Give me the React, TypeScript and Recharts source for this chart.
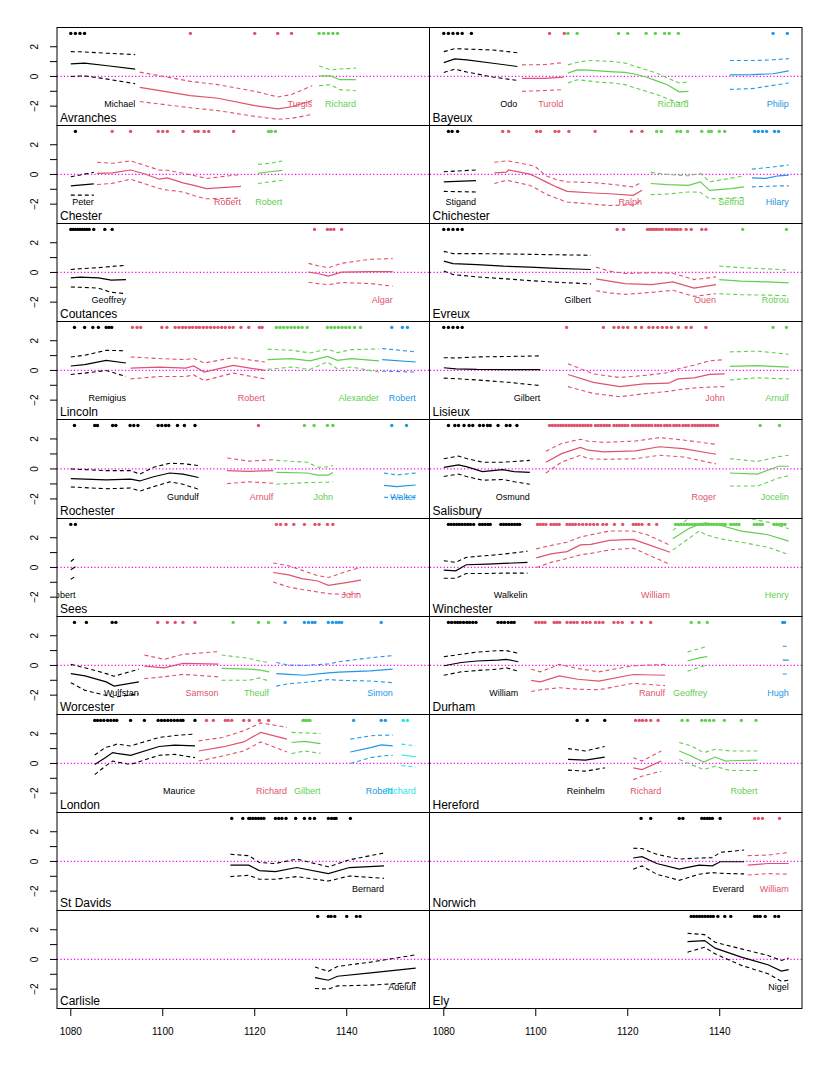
import React from 'react'
import { ComposedChart, Line, Scatter, XAxis, YAxis, ReferenceLine } from 'recharts'

// each fit point: [year, estimate, lower, upper]
type Pt = [number, number, number, number]

const COLORS = ['#000000', '#DF536B', '#61D04F', '#2297E6', '#28E2E5']
const YEAR_TICKS = [1080, 1100, 1120, 1140]
const SCORE_TICKS = [-2, -1, 0, 1, 2]
const RUG_Y = 2.9
const LABEL_Y = -1.87

const seeNames = [
  'Avranches', 'Bayeux', 'Chester', 'Chichester', 'Coutances', 'Evreux', 'Lincoln', 'Lisieux',
  'Rochester', 'Salisbury', 'Sees', 'Winchester', 'Worcester', 'Durham', 'London', 'Hereford',
  'St Davids', 'Norwich', 'Carlisle', 'Ely',
]

// Avranches
const avranchesNames = ['Michael', 'Turgis', 'Richard']
const avranchesFits: Pt[][] = [
  [[1080, 0.84, 0, 1.67], [1082, 0.88, 0.03, 1.66], [1083, 0.9, 0.04, 1.65], [1088, 0.72, -0.18, 1.56], [1094, 0.49, -0.49, 1.47]],
  [[1095, -0.73, -1.69, 0.29], [1106, -1.29, -2.11, -0.33], [1112, -1.47, -2.3, -0.55], [1120, -1.96, -2.69, -1.0], [1125, -2.18, -2.89, -1.38], [1128, -2.04, -2.82, -1.22], [1132.5, -1.62, -2.56, -0.62]],
  [[1134, 0.04, -0.62, 0.71], [1136.5, 0.04, -0.56, 0.44], [1138.5, -0.22, -0.89, 0.5], [1142, -0.22, -0.96, 0.56]],
]
const avranchesDates = [[1080, 1081, 1082, 1083], [1106, 1120, 1125, 1128], [1134, 1135, 1136, 1137, 1138]]

// Bayeux
const bayeuxNames = ['Odo', 'Turold', 'Richard', 'Philip']
const bayeuxFits: Pt[][] = [
  [[1080, 0.93, 0.27, 1.67], [1082.4, 1.18, 0.49, 1.87], [1085, 1.11, 0.3, 1.84], [1090.7, 0.89, -0.04, 1.78], [1096, 0.67, -0.27, 1.6]],
  [[1097, -0.13, -1.0, 0.78], [1102, -0.13, -0.95, 0.8], [1106, -0.04, -0.89, 0.93]],
  [[1107, 0.22, -0.44, 0.78], [1109, 0.44, -0.22, 0.95], [1111.4, 0.42, -0.3, 1.07], [1113.7, 0.38, -0.38, 1.05], [1117, 0.31, -0.45, 1.0], [1119.4, 0.27, -0.55, 0.9], [1121.7, 0.15, -0.78, 0.67], [1124, -0.04, -1.0, 0.45], [1126.3, -0.3, -1.22, 0.22], [1128.6, -0.56, -1.5, -0.1], [1131.2, -1.04, -1.78, -0.44], [1133.2, -1.0, -1.6, -0.38]],
  [[1142.2, 0.11, -0.87, 1.07], [1147, 0.12, -0.82, 1.07], [1151.6, 0.18, -0.6, 1.12], [1155, 0.38, -0.44, 1.2]],
]
const bayeuxDates = [[1080, 1081, 1082, 1083, 1084, 1086], [1103, 1106.2], [1107, 1109, 1118, 1120, 1124, 1126, 1128, 1129, 1131], [1151.6, 1154.7]]

// Chester
const chesterNames = ['Peter', 'Robert', 'Robert']
const chesterFits: Pt[][] = [
  [[1080, -0.77, -1.39, -0.16], [1085, -0.64, -1.39, 0.14]],
  [[1085.7, 0.07, -0.68, 0.82], [1089, 0.11, -0.6, 0.75], [1093, 0.3, -0.32, 0.91], [1096, 0.05, -0.62, 0.62], [1099.2, -0.32, -0.95, 0.3], [1101, -0.23, -1.05, 0.28], [1104.4, -0.57, -1.18, 0.08], [1107, -0.75, -1.45, -0.09], [1109.5, -0.95, -1.64, -0.27], [1117, -0.8, -1.59, 0]],
  [[1120.7, 0.07, -0.61, 0.68], [1123.3, 0.18, -0.5, 0.75], [1126, 0.27, -0.39, 0.91]],
]
const chesterDates = [[1081], [1089, 1093, 1099, 1100, 1101, 1104.4, 1107, 1107.7, 1109, 1110, 1115.4], [1123, 1123.6, 1124.5]]

// Chichester
const chichesterNames = ['Stigand', 'Ralph', 'Seffrid', 'Hilary']
const chichesterFits: Pt[][] = [
  [[1080, -0.5, -1.14, 0.18], [1087, -0.41, -1.18, 0.3]],
  [[1091, 0.11, -0.61, 0.82], [1093.6, 0.15, -0.39, 0.91], [1094.1, 0.3, -0.42, 0.9], [1098.7, 0.02, -0.73, 0.64], [1100, -0.16, -0.93, 0.5], [1102.2, -0.5, -1.33, -0.09], [1104.5, -0.84, -1.6, -0.35], [1106.8, -1.14, -1.86, -0.5], [1112.5, -1.25, -2.0, -0.55], [1116, -1.3, -2.09, -0.65], [1121.2, -1.41, -2.05, -0.84], [1123.1, -1.07, -1.75, -0.5]],
  [[1125, -0.61, -1.36, 0.14], [1128.6, -0.68, -1.32, 0], [1133.2, -0.73, -1.18, -0.09], [1135.8, -0.5, -1.2, 0.07], [1137.8, -1.07, -1.64, -0.5], [1142.4, -0.95, -1.59, -0.25], [1145.3, -0.84, -1.55, -0.09]],
  [[1147, -0.23, -0.84, 0.36], [1150, -0.27, -0.8, 0.45], [1152.8, -0.09, -0.77, 0.55], [1155, -0.05, -0.77, 0.64]],
]
const chichesterDates = [
  [1081, 1081.8, 1083],
  [1092.8, 1094.1, 1100.2, 1101, 1104.2, 1105, 1107.2, 1112.9, 1120.8, 1123.1],
  [1126.3, 1127.3, 1130.7, 1131.5, 1133, 1136.1, 1137.6, 1138.2, 1139.9, 1141.1],
  [1147.6, 1148.4, 1149.3, 1150.2, 1151.9, 1152.8],
]

// Coutances
const coutancesNames = ['Geoffrey', 'Algar']
const coutancesFits: Pt[][] = [
  [[1080, -0.36, -0.98, 0.2], [1082, -0.32, -1.0, 0.25], [1086, -0.36, -1.05, 0.32], [1088.8, -0.52, -1.34, 0.4], [1092, -0.48, -1.43, 0.48]],
  [[1131.7, 0.02, -0.66, 0.61], [1133.7, -0.07, -0.75, 0.45], [1136, -0.25, -0.82, 0.32], [1138.9, 0.02, -0.68, 0.62], [1145.2, 0.05, -0.75, 0.89], [1150, 0.05, -0.93, 0.93]],
]
const coutancesDates = [[1080, 1080.5, 1081, 1081.5, 1082, 1082.5, 1083, 1083.5, 1084, 1085, 1087.4, 1089], [1133, 1135.8, 1136.5, 1137.2, 1138.9]]

// Evreux
const evreuxNames = ['Gilbert', 'Ouen', 'Rotrou']
const evreuxFits: Pt[][] = [
  [[1080, 0.76, 0.09, 1.42], [1082, 0.6, -0.14, 1.27], [1087.2, 0.53, -0.3, 1.27], [1093, 0.42, -0.42, 1.25], [1098.7, 0.36, -0.55, 1.22], [1104.5, 0.27, -0.66, 1.19], [1112, 0.2, -0.77, 1.16]],
  [[1113.1, -0.43, -1.23, 0.36], [1116, -0.58, -1.38, 0.09], [1119.4, -0.75, -1.48, -0.07], [1125.2, -0.82, -1.34, -0.02], [1129.8, -0.64, -1.2, -0.05], [1134.4, -1.05, -1.61, -0.48], [1139.2, -0.82, -1.43, -0.3]],
  [[1139.9, -0.48, -1.43, 0.43], [1144.7, -0.59, -1.5, 0.32], [1150.5, -0.64, -1.53, 0.24], [1155, -0.7, -1.57, 0.16]],
]
const evreuxDates = [
  [1080, 1081, 1082, 1083, 1084],
  [1117.7, 1119.1, 1124.3, 1124.8, 1125.3, 1125.8, 1126.3, 1126.9, 1127.5, 1128.4, 1129, 1129.6, 1130.2, 1130.8, 1131.5, 1132.7, 1133.8, 1136.1, 1137],
  [1145, 1154.5],
]

// Lincoln
const lincolnNames = ['Remigius', 'Robert', 'Alexander', 'Robert']
const lincolnFits: Pt[][] = [
  [[1080, 0.3, -0.27, 0.91], [1083, 0.39, -0.18, 1.02], [1087.7, 0.68, 0, 1.36], [1092, 0.5, -0.41, 1.32]],
  [[1093, 0.16, -0.57, 0.91], [1099.2, 0.23, -0.41, 0.8], [1105, 0.16, -0.41, 0.73], [1106.7, 0.3, -0.3, 0.82], [1109, -0.11, -0.68, 0.5], [1115.3, 0.34, -0.18, 0.86], [1122.2, 0, -0.57, 0.57]],
  [[1122.8, 0.73, 0.07, 1.43], [1128, 0.8, 0.23, 1.36], [1132, 0.64, 0.07, 1.18], [1135.8, 0.95, 0.57, 1.43], [1138, 0.68, 0.1, 1.2], [1141, 0.8, 0.23, 1.4], [1147, 0.64, -0.11, 1.45]],
  [[1147.7, 0.73, -0.05, 1.48], [1155, 0.57, -0.11, 1.25]],
]
const lincolnDates = [
  [1080.8, 1083, 1084.8, 1086, 1087.7, 1088.3, 1088.9],
  [1093.4, 1094.4, 1095.2, 1099.8, 1100.9, 1102.7, 1103.5, 1104.3, 1105, 1105.8, 1106.5, 1107.3, 1108, 1108.8, 1109.6, 1110.4, 1111.2, 1112, 1112.8, 1113.6, 1114.5, 1115.3, 1117, 1118.7, 1121, 1121.6],
  [1124.7, 1125.5, 1126.3, 1127.1, 1127.9, 1128.7, 1129.5, 1130.3, 1131.4, 1135.8, 1136.6, 1137.4, 1138.2, 1139, 1139.8, 1140.6, 1141.7, 1143],
  [1149.8, 1152.1, 1153.2],
]

// Lisieux
const lisieuxNames = ['Gilbert', 'John', 'Arnulf']
const lisieuxFits: Pt[][] = [
  [[1080, 0.18, -0.52, 0.86], [1082.6, 0.11, -0.55, 0.84], [1087.2, 0.07, -0.64, 0.91], [1094, 0.06, -0.8, 0.94], [1101, 0.05, -1.02, 0.98]],
  [[1107, -0.27, -1.09, 0.45], [1112.5, -0.8, -1.55, -0.23], [1118.3, -1.09, -1.77, -0.48], [1123.5, -0.91, -1.57, -0.34], [1128.9, -0.86, -1.41, -0.15], [1130.9, -0.57, -1.3, 0.1], [1134.4, -0.5, -1.18, 0.35], [1137.8, -0.27, -1.12, 0.65], [1141.1, -0.23, -1.09, 0.73]],
  [[1142.2, 0.27, -0.64, 1.25], [1148.2, 0.32, -0.5, 1.3], [1155, 0.23, -0.57, 1.09]],
]
const lisieuxDates = [
  [1080, 1081, 1082, 1083, 1084],
  [1106.7, 1114.7, 1117, 1118, 1119, 1120, 1121.7, 1123, 1124.6, 1125.5, 1126.5, 1127.5, 1128.5, 1129.5, 1131, 1132.7, 1133.8, 1137],
  [1151.6, 1154.5],
]

// Rochester
const rochesterNames = ['Gundulf', 'Arnulf', 'John', 'Walter']
const rochesterFits: Pt[][] = [
  [[1080, -0.64, -1.2, 0], [1087.7, -0.73, -1.32, -0.11], [1093, -0.68, -1.27, -0.11], [1095, -0.8, -1.48, -0.34], [1098, -0.52, -1.18, 0.11], [1101.5, -0.27, -0.86, 0.38], [1104.4, -0.34, -1.02, 0.35], [1107.8, -0.57, -1.36, 0.23]],
  [[1114, -0.11, -0.98, 0.73], [1118.7, -0.16, -0.86, 0.52], [1124, -0.11, -0.95, 0.61]],
  [[1124.7, -0.23, -1.02, 0.57], [1131.4, -0.27, -0.91, 0.45], [1133.7, -0.41, -0.9, 0.11], [1136, -0.41, -0.88, 0.15], [1137, -0.23, -0.86, 0.23]],
  [[1148.1, -1.09, -1.89, -0.27], [1150.9, -1.18, -1.9, -0.4], [1155, -1.07, -1.89, -0.27]],
]
const rochesterDates = [
  [1080.8, 1085.2, 1085.8, 1089.1, 1089.8, 1092.9, 1093.7, 1094.6, 1099, 1099.8, 1100.6, 1101.3, 1103.2, 1104.7, 1107],
  [1120.8],
  [1130.8, 1132.9, 1135.8, 1137],
  [1149.8, 1153],
]

// Salisbury
const salisburyNames = ['Osmund', 'Roger', 'Jocelin']
const salisburyFits: Pt[][] = [
  [[1080, 0.11, -0.5, 0.68], [1083.2, 0.27, -0.34, 0.86], [1084.9, 0.15, -0.5, 0.7], [1088.4, -0.18, -0.75, 0.45], [1092.8, -0.05, -0.7, 0.45], [1095.3, -0.18, -0.85, 0.5], [1098.7, -0.23, -1.02, 0.57]],
  [[1102.2, 0.45, -0.27, 1.18], [1105.6, 1.02, 0.45, 1.7], [1109.7, 1.43, 0.91, 1.98], [1111.4, 1.25, 0.68, 1.85], [1114.8, 1.14, 0.64, 1.77], [1121.7, 1.2, 0.68, 1.86], [1126.9, 1.48, 0.91, 2.09], [1132.1, 1.36, 0.8, 1.93], [1139.2, 0.98, 0.34, 1.64]],
  [[1142.2, -0.27, -1.14, 0.68], [1148.2, -0.34, -1.14, 0.5], [1152.8, 0.18, -0.6, 0.82], [1155, 0.18, -0.45, 0.91]],
]
const salisburyDates = [
  [1081, 1082.4, 1083.2, 1084.4, 1085.5, 1086.3, 1087.8, 1088.6, 1089.5, 1090.1, 1091.8, 1093.6, 1094.4, 1095.9],
  [1103, 1103.6, 1104.2, 1104.8, 1105.4, 1106, 1106.6, 1107.2, 1107.8, 1108.4, 1109, 1109.6, 1110.2, 1110.8, 1111.4, 1112, 1113, 1113.6, 1114.2, 1114.8, 1115.4, 1116, 1117, 1117.6, 1118.2, 1118.8, 1119.4, 1120, 1121, 1121.6, 1122.2, 1122.8, 1123.4, 1124, 1124.6, 1125.2, 1126, 1126.6, 1127.2, 1128, 1128.6, 1129.2, 1130, 1130.6, 1131.2, 1132, 1132.6, 1133.2, 1134, 1134.6, 1135.2, 1135.8, 1136.4, 1137, 1137.6, 1138.2, 1138.8, 1139.5],
  [1148.8, 1153],
]

// Sees
const seesNames = ['Robert', 'John']
const seesFits: Pt[][] = [
  [[1080, -0.15, -0.8, 0.4], [1081, 0.05, -0.6, 0.65]],
  [[1124, -0.34, -0.98, 0.3], [1127.4, -0.5, -1.32, 0.11], [1130.2, -0.75, -1.48, -0.18], [1133.7, -0.91, -1.65, -0.55], [1136, -1.2, -1.77, -0.68], [1139.9, -1.02, -1.82, -0.27], [1143.1, -0.86, -1.75, 0]],
]
const seesDates = [[1080, 1081], [1124.7, 1125.6, 1126.8, 1128.5, 1130.8, 1133.1, 1134, 1135.8, 1137]]

// Winchester
const winchesterNames = ['Walkelin', 'William', 'Henry']
const winchesterFits: Pt[][] = [
  [[1080, -0.18, -0.73, 0.45], [1082.6, -0.23, -0.73, 0.34], [1084.9, 0.18, -0.41, 0.68], [1089.5, 0.23, -0.41, 0.8], [1093, 0.27, -0.38, 0.9], [1098.2, 0.34, -0.38, 1.09]],
  [[1100.1, 0.64, 0, 1.25], [1103.3, 0.91, 0.34, 1.48], [1106.8, 1.07, 0.6, 1.7], [1109.7, 1.52, 0.85, 2.05], [1112, 1.55, 0.95, 2.2], [1116, 1.82, 1.18, 2.45], [1121.2, 1.89, 1.3, 2.45], [1124, 1.59, 0.91, 2.23], [1129.2, 1.02, 0.2, 1.5]],
  [[1129.8, 1.93, 1.18, 2.5], [1133.2, 2.61, 1.93, 3.3], [1135.5, 2.9, 2.45, 3.5], [1137, 3.0, 2.2, 3.6], [1140.1, 2.84, 1.93, 3.6], [1144.7, 2.45, 1.7, 3.4], [1150.5, 2.2, 1.36, 3.05], [1155, 1.77, 0.86, 2.6]],
]
const winchesterDates = [
  [1081, 1081.6, 1082.2, 1082.8, 1083.4, 1084, 1084.6, 1085.2, 1085.8, 1086.5, 1087.8, 1088.4, 1089, 1089.6, 1090.1, 1092.4, 1093, 1093.6, 1094.2, 1094.8, 1095.4, 1096, 1096.5],
  [1100.4, 1101, 1101.6, 1102.2, 1103.3, 1103.9, 1104.5, 1105.1, 1106.8, 1107.4, 1108, 1108.6, 1109.4, 1110.2, 1111, 1111.8, 1112.6, 1113.4, 1114.6, 1115.4, 1117.1, 1118.9, 1121.2, 1121.8, 1122.4, 1123.1, 1124.6, 1126.3],
  [1130.4, 1131, 1131.6, 1132.2, 1132.8, 1133.4, 1134, 1134.6, 1135.2, 1135.8, 1136.4, 1137, 1137.6, 1138.2, 1138.8, 1139.4, 1140, 1140.6, 1141.2, 1142.4, 1143, 1143.6, 1144.2, 1147.5, 1148.1, 1148.7, 1149.3, 1151.8, 1152.4, 1153, 1153.6, 1154.2],
]

// Worcester
const worcesterNames = ['Wulfstan', 'Samson', 'Theulf', 'Simon']
const worcesterFits: Pt[][] = [
  [[1080, -0.55, -1.16, 0.07], [1083.1, -0.7, -1.68, -0.16], [1087.7, -1.11, -2.02, -0.55], [1089.4, -1.39, -2.14, -0.73], [1094.8, -1.11, -1.91, -0.25]],
  [[1096, -0.05, -0.89, 0.7], [1100.3, -0.16, -0.76, 0.41], [1104.4, 0.14, -0.6, 0.75], [1112.1, 0.09, -0.77, 0.93]],
  [[1112.8, -0.2, -1.0, 0.7], [1118.7, -0.25, -1.0, 0.48], [1121, -0.3, -0.84, 0.3], [1123.1, -0.43, -1.05, 0.2]],
  [[1124.7, -0.55, -1.39, 0.2], [1127.4, -0.6, -1.23, 0.02], [1130.8, -0.66, -1.15, 0], [1136, -0.5, -0.95, 0.1], [1138.3, -0.45, -1.0, 0.25], [1145.2, -0.36, -1.05, 0.52], [1150, -0.25, -1.16, 0.66]],
]
const worcesterDates = [
  [1080.8, 1083.4, 1089, 1089.8],
  [1098.9, 1101, 1102.7, 1104.4, 1107],
  [1115.3, 1120.8, 1123],
  [1126.6, 1130.8, 1131.7, 1132.5, 1133.1, 1136, 1136.9, 1137.7, 1138.3, 1138.9, 1147.5],
]

// Durham
const durhamNames = ['William', 'Ranulf', 'Geoffrey', 'Hugh']
const durhamFits: Pt[][] = [
  [[1080, -0.02, -0.66, 0.59], [1083.8, 0.2, -0.43, 0.75], [1087.2, 0.3, -0.34, 0.9], [1091.8, 0.36, -0.25, 1.0], [1093.6, 0.41, -0.16, 1.0], [1096.2, 0.25, -0.39, 0.82]],
  [[1099, -1.0, -1.75, -0.25], [1101, -1.11, -1.64, -0.43], [1105.1, -0.7, -1.5, 0.07], [1109.1, -0.93, -1.6, -0.2], [1113.7, -1.05, -1.64, -0.43], [1121.2, -0.61, -1.2, -0.02], [1128.1, -0.66, -1.36, 0.07]],
  [[1133, 0.3, -0.39, 0.91], [1135.8, 0.53, -0.1, 1.15], [1137.3, 0.59, 0.02, 1.29]],
  [[1153.7, 0.36, -0.58, 1.29], [1155, 0.36, -0.58, 1.29]],
]
const durhamDates = [
  [1081, 1081.7, 1082.4, 1083, 1083.6, 1084.3, 1085, 1085.6, 1086.3, 1087, 1091.8, 1092.5, 1093.2, 1094, 1094.7, 1095.3],
  [1100, 1100.7, 1101.4, 1102, 1104, 1104.6, 1105.2, 1106.8, 1107.6, 1108.3, 1109, 1110.2, 1111, 1111.8, 1113, 1113.8, 1114.6, 1117, 1117.9, 1118.8, 1121, 1123, 1125],
  [1133.8, 1135.5, 1137.3],
  [1153.7, 1154.1],
]

// London
const londonNames = ['Maurice', 'Richard', 'Gilbert', 'Robert', 'Richard']
const londonFits: Pt[][] = [
  [[1085.2, -0.07, -0.75, 0.57], [1087.5, 0.39, -0.18, 1.07], [1089.1, 0.73, 0.16, 1.2], [1090, 0.68, 0.1, 1.3], [1093, 0.55, -0.07, 1.18], [1099.2, 1.14, 0.55, 1.75], [1102.6, 1.23, 0.61, 1.88], [1107, 1.18, 0.39, 1.98]],
  [[1107.8, 0.84, 0.16, 1.52], [1113, 1.11, 0.5, 1.75], [1117.6, 1.45, 0.84, 2.2], [1121.3, 2.09, 1.45, 2.73], [1127, 1.64, 0.77, 2.43]],
  [[1128, 1.41, 0.66, 2.09], [1130.8, 1.48, 0.84, 2.05], [1134.3, 1.34, 0.68, 2.02]],
  [[1140.8, 0.77, 0, 1.64], [1145.2, 1.07, 0.39, 1.86], [1147.5, 1.25, 0.5, 1.9], [1150, 1.18, 0.55, 1.91]],
  [[1151.9, 0.57, -0.14, 1.3], [1155, 0.45, -0.25, 1.18]],
]
const londonDates = [
  [1085.2, 1085.8, 1086.5, 1087.2, 1088, 1088.7, 1089.4, 1090, 1093, 1096, 1099, 1099.7, 1100.4, 1101.1, 1101.8, 1102.5, 1103.2, 1103.9, 1104.4, 1107],
  [1109.5, 1111, 1113.6, 1114.2, 1115, 1117.6, 1118.8, 1121, 1123],
  [1130.5, 1131, 1131.5, 1132],
  [1141.5, 1147.5, 1148.4],
  [1152.3, 1153.2],
]

// Hereford
const herefordNames = ['Reinhelm', 'Richard', 'Robert']
const herefordFits: Pt[][] = [
  [[1107, 0.27, -0.45, 1.0], [1110.8, 0.23, -0.52, 0.84], [1115, 0.43, -0.3, 1.14]],
  [[1121.2, -0.3, -1.09, 0.39], [1123.1, -0.41, -0.86, 0.16], [1127.3, 0.16, -0.52, 0.84]],
  [[1131.2, 0.84, 0.27, 1.41], [1133.8, 0.5, -0.07, 1.18], [1136.5, 0.09, -0.41, 0.73], [1139, 0.43, -0.18, 0.95], [1141.3, 0.16, -0.4, 0.88], [1142.4, 0.18, -0.48, 0.84], [1148.2, 0.23, -0.48, 0.84]],
]
const herefordDates = [
  [1109, 1111.2, 1115],
  [1121.7, 1122.5, 1123.2, 1124, 1125, 1126.6],
  [1131.8, 1133, 1136.1, 1136.9, 1137.8, 1138.7, 1141, 1144.7, 1147.9],
]

// St Davids
const stDavidsNames = ['Bernard']
const stDavidsFits: Pt[][] = [
  [[1114.7, -0.25, -1.02, 0.48], [1118.7, -0.25, -0.93, 0.39], [1121, -0.62, -1.2, -0.07], [1124.5, -0.68, -1.2, -0.14], [1129.1, -0.41, -1.02, 0.16], [1136, -0.82, -1.32, -0.36], [1140.6, -0.41, -0.98, 0.11], [1148.1, -0.3, -1.14, 0.57]],
]
const stDavidsDates = [[1115, 1117.4, 1118.7, 1119, 1119.6, 1120.2, 1120.8, 1121.4, 1122, 1124.5, 1125.2, 1125.9, 1126.8, 1128.9, 1130.8, 1132, 1133, 1136, 1136.7, 1137.3, 1137.7, 1140.8]]

// Norwich
const norwichNames = ['Everard', 'William']
const norwichFits: Pt[][] = [
  [[1121.2, 0.23, -0.52, 0.89], [1123.1, 0.32, -0.3, 0.87], [1126.3, -0.14, -0.86, 0.48], [1131.2, -0.52, -1.27, 0.16], [1135.5, -0.25, -0.86, 0.23], [1138.4, -0.3, -0.75, 0.25], [1140.1, -0.02, -0.8, 0.61], [1145.3, -0.02, -0.84, 0.77]],
  [[1146.1, -0.25, -0.91, 0.39], [1150.5, -0.14, -0.82, 0.43], [1155, -0.14, -0.86, 0.61]],
]
const norwichDates = [[1122.9, 1125, 1131.2, 1132, 1136.1, 1136.7, 1137.3, 1137.8, 1138.4, 1140.1], [1147.6, 1148.4, 1149.3, 1153]]

// Carlisle
const carlisleNames = ['Adelulf']
const carlisleFits: Pt[][] = [
  [[1133.1, -1.22, -1.96, -0.51], [1136, -1.4, -2.0, -0.8], [1138, -1.13, -1.78, -0.47], [1145.2, -0.91, -1.73, -0.18], [1155, -0.58, -1.55, 0.31]],
]
const carlisleDates = [[1133.7, 1136, 1136.6, 1137.4, 1140, 1142.1, 1142.9]]

// Ely
const elyNames = ['Nigel']
const elyFits: Pt[][] = [
  [[1133, 1.2, 0.49, 1.76], [1136.7, 1.27, 0.82, 1.67], [1139, 0.76, 0.38, 1.16], [1144.7, 0.16, -0.4, 0.71], [1150.5, -0.36, -0.96, 0.27], [1153.4, -0.78, -1.47, -0.07], [1155, -0.69, -1.4, 0.09]],
]
const elyDates = [[1133.8, 1134.4, 1135, 1135.6, 1136.2, 1136.8, 1137.4, 1138, 1138.6, 1139.6, 1141.1, 1142.4, 1147.6, 1148.2, 1148.8, 1149.9, 1152, 1152.8]]

const panelNames = [
  avranchesNames, bayeuxNames, chesterNames, chichesterNames, coutancesNames, evreuxNames, lincolnNames, lisieuxNames,
  rochesterNames, salisburyNames, seesNames, winchesterNames, worcesterNames, durhamNames, londonNames, herefordNames,
  stDavidsNames, norwichNames, carlisleNames, elyNames,
]
const panelFits = [
  avranchesFits, bayeuxFits, chesterFits, chichesterFits, coutancesFits, evreuxFits, lincolnFits, lisieuxFits,
  rochesterFits, salisburyFits, seesFits, winchesterFits, worcesterFits, durhamFits, londonFits, herefordFits,
  stDavidsFits, norwichFits, carlisleFits, elyFits,
]
const panelDates = [
  avranchesDates, bayeuxDates, chesterDates, chichesterDates, coutancesDates, evreuxDates, lincolnDates, lisieuxDates,
  rochesterDates, salisburyDates, seesDates, winchesterDates, worcesterDates, durhamDates, londonDates, herefordDates,
  stDavidsDates, norwichDates, carlisleDates, elyDates,
]

// layout
const PLOT_LEFT = 57
const PANEL_W = 372.5
const PLOT_TOP = 27
const ROW_STEP = 98.1
const Y_AXIS_W = 57
const X_AXIS_H = 34
const FONT = '"Liberation Sans", Arial, Helvetica, sans-serif'

const rowTop = (row: number) => PLOT_TOP + Math.round(row * ROW_STEP)
const rowHeight = (row: number) => rowTop(row + 1) - rowTop(row)

function ScoreTick(props: any) {
  const { y, payload } = props
  if (payload.value % 2 !== 0) return <g />
  const label = payload.value < 0 ? `\u2212${Math.abs(payload.value)}` : String(payload.value)
  return (
    <text
      x={35}
      y={y}
      transform={`rotate(-90 35 ${y})`}
      textAnchor="middle"
      dominantBaseline="central"
      fontSize={10}
      fontFamily={FONT}
      fill="#000"
    >
      {label}
    </text>
  )
}

function Panel({ index }: { index: number }) {
  const col = index % 2
  const row = Math.floor(index / 2)
  const isBottom = row === 9
  const left = col === 0 ? 0 : PLOT_LEFT + PANEL_W
  const width = col === 0 ? Y_AXIS_W + PANEL_W : PANEL_W
  const height = rowHeight(row) + (isBottom ? X_AXIS_H : 0)
  const names = panelNames[index]
  const fits = panelFits[index]
  const dates = panelDates[index]

  return (
    <div style={{ position: 'absolute', left, top: rowTop(row) }}>
      <ComposedChart width={width} height={height} margin={{ top: 0, right: 0, bottom: 0, left: 0 }}>
        <XAxis
          type="number"
          dataKey="x"
          domain={[1077, 1158]}
          allowDataOverflow
          ticks={YEAR_TICKS}
          interval={0}
          hide={!isBottom}
          height={X_AXIS_H}
          axisLine={false}
          tickSize={8}
          tickMargin={12}
          tickLine={{ stroke: '#000' }}
          tick={{ fontSize: 10, fill: '#000', fontFamily: FONT }}
        />
        <YAxis
          type="number"
          dataKey="y"
          domain={[-3.27, 3.33]}
          allowDataOverflow
          ticks={SCORE_TICKS}
          interval={0}
          hide={col !== 0}
          width={Y_AXIS_W}
          axisLine={false}
          tickSize={7}
          tickLine={{ stroke: '#000' }}
          tick={<ScoreTick />}
        />
        <ReferenceLine y={0} stroke="#FF00FF" strokeDasharray="1.2 2.2" strokeWidth={1.2} />
        {fits.map((pts, k) => {
          const rows = pts.map(([x, est, lo, hi]) => ({ x, est, lo, hi }))
          const color = COLORS[k]
          return [
            <Line key={`hi${k}`} data={rows} dataKey="hi" stroke={color} strokeWidth={1.1} strokeDasharray="4 3" dot={false} isAnimationActive={false} />,
            <Line key={`lo${k}`} data={rows} dataKey="lo" stroke={color} strokeWidth={1.1} strokeDasharray="4 3" dot={false} isAnimationActive={false} />,
            <Line key={`est${k}`} data={rows} dataKey="est" stroke={color} strokeWidth={1.2} dot={false} isAnimationActive={false} />,
          ]
        })}
        {dates.map((ds, k) => (
          <Scatter
            key={`rug${k}`}
            data={ds.map((x) => ({ x, y: RUG_Y }))}
            isAnimationActive={false}
            shape={(p: any) => <circle cx={p.cx} cy={p.cy} r={1.7} fill={COLORS[k]} />}
          />
        ))}
        {fits.map((pts, k) => (
          <Scatter
            key={`lab${k}`}
            data={[{ x: pts[pts.length - 1][0], y: LABEL_Y }]}
            isAnimationActive={false}
            shape={(p: any) => (
              <text
                x={p.cx}
                y={p.cy}
                textAnchor="end"
                dominantBaseline="central"
                fontSize={9}
                fontFamily={FONT}
                fill={COLORS[k]}
              >
                {names[k]}
              </text>
            )}
          />
        ))}
      </ComposedChart>
    </div>
  )
}

export default function App() {
  return (
    <div style={{ position: 'absolute', left: 0, top: 0, width: 830, height: 1066, background: '#fff' }}>
      {seeNames.map((_, i) => (
        <Panel key={i} index={i} />
      ))}
      <svg width={830} height={1066} style={{ position: 'absolute', left: 0, top: 0, pointerEvents: 'none' }}>
        {seeNames.map((see, i) => {
          const col = i % 2
          const row = Math.floor(i / 2)
          const x = PLOT_LEFT + col * PANEL_W
          const y = rowTop(row)
          const h = rowHeight(row)
          return (
            <g key={see}>
              <rect x={x} y={y + 0.5} width={PANEL_W} height={h} fill="none" stroke="#000" strokeWidth={1} />
              <text x={x + 3} y={y + h - 3} fontSize={12} fontFamily={FONT} fill="#000">
                {see}
              </text>
            </g>
          )
        })}
      </svg>
    </div>
  )
}
